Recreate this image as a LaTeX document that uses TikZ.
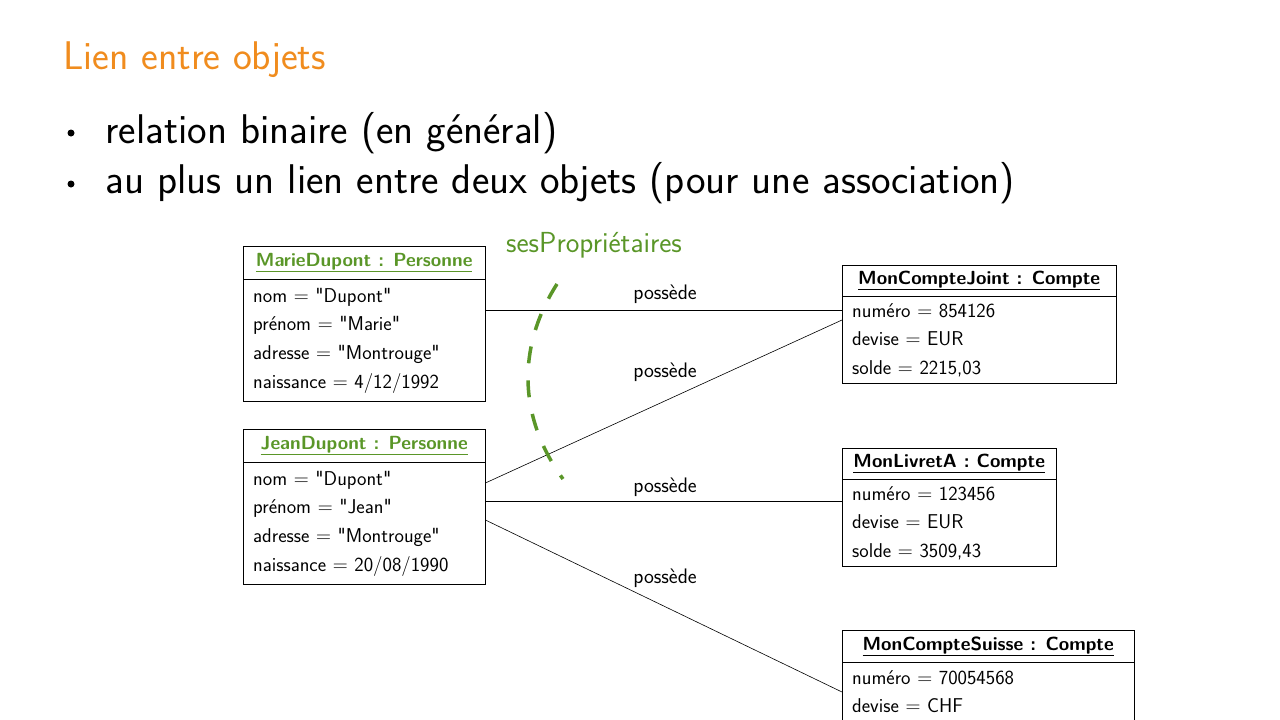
\documentclass[tikz,border=0pt]{standalone}
\usepackage{fontspec}
\usetikzlibrary{positioning}
\renewcommand{\familydefault}{\sfdefault}
\definecolor{orng}{RGB}{240,140,30}
\definecolor{grn}{RGB}{90,150,40}
\newcommand{\qq}{\textquotedbl}
\begin{document}
\begin{tikzpicture}[x=1pt,y=-1pt,
  hdr/.style={draw,minimum height=33,inner sep=0,font=\fontsize{19}{22}\selectfont\bfseries},
  hdrg/.style={hdr,text=grn},
  bodyb/.style={draw,align=left,anchor=north,inner xsep=10,inner ysep=4.5,font=\fontsize{20}{28.7}\selectfont},
  lnk/.style={line width=0.6pt},
  lbl/.style={font=\fontsize{21}{24}\selectfont},
  blt/.style={circle,fill=black,inner sep=0,minimum size=7}]
\useasboundingbox (0,0) rectangle (1280,720);
\begin{scope}
\clip (0,0) rectangle (1280,720);
\node[anchor=west,text=orng,font=\fontsize{40}{44}\selectfont] (title) at (60,60) {Lien entre objets};
\node[blt] (d1) at (71,133) {};
\node[blt] (d2) at (71,184) {};
\node[anchor=west,font=\fontsize{41.5}{44}\selectfont] (b1) at (102,133) {relation binaire (en général)};
\node[anchor=west,font=\fontsize{41.5}{44}\selectfont] (b2) at (102,183) {au plus un lien entre deux objets (pour une association)};

\node[hdrg,minimum width=242,anchor=north west] (marieH) at (243,246) {\underline{MarieDupont : Personne}};
\node[bodyb,minimum width=242,text width=222,minimum height=122] (marieB) at (marieH.south) {nom $=$ \qq Dupont\qq\\prénom $=$ \qq Marie\qq\\adresse $=$ \qq Montrouge\qq\\naissance $=$ 4/12/1992};
\node[hdrg,minimum width=242,anchor=north west] (jeanH) at (243,429) {\underline{JeanDupont : Personne}};
\node[bodyb,minimum width=242,text width=222,minimum height=122] (jeanB) at (jeanH.south) {nom $=$ \qq Dupont\qq\\prénom $=$ \qq Jean\qq\\adresse $=$ \qq Montrouge\qq\\naissance $=$ 20/08/1990};

\node[hdr,minimum width=274,minimum height=31,anchor=north west] (jointH) at (842,265) {\underline{MonCompteJoint : Compte}};
\node[bodyb,minimum width=274,text width=254,minimum height=87] (jointB) at (jointH.south) {numéro $=$ 854126\\devise $=$ EUR\\solde $=$ 2215,03};
\node[hdr,minimum width=214,minimum height=31,anchor=north west] (livretH) at (842,448) {\underline{MonLivretA : Compte}};
\node[bodyb,minimum width=214,text width=194,minimum height=87] (livretB) at (livretH.south) {numéro $=$ 123456\\devise $=$ EUR\\solde $=$ 3509,43};
\node[hdr,minimum width=292,minimum height=32,anchor=north west] (suisseH) at (842,630) {\underline{MonCompteSuisse : Compte}};
\node[bodyb,minimum width=292,text width=272,minimum height=87] (suisseB) at (suisseH.south) {numéro $=$ 70054568\\devise $=$ CHF\\solde $=$ 0};

\draw[lnk] (marieB.east |- 0,310) -- (jointB.west |- 0,310);
\draw[lnk] (jeanB.east |- 0,483) -- (jointB.west |- 0,320);
\draw[lnk] (jeanB.east |- 0,501) -- (livretB.west |- 0,501);
\draw[lnk] (jeanB.east |- 0,520) -- (suisseB.west |- 0,692);
\node[lbl] (l1) at (665,294) {possède};
\node[lbl] (l2) at (665,372) {possède};
\node[lbl] (l3) at (665,487) {possède};
\node[lbl] (l4) at (665,578) {possède};

\node[text=grn,font=\fontsize{29}{32}\selectfont] (role) at (594,245) {sesPropriétaires};
\draw[grn,line width=3.5pt,dash pattern=on 17pt off 17pt] (557,284) .. controls (515,350) and (520,420) .. (563,479);
\end{scope}
\end{tikzpicture}
\end{document}
